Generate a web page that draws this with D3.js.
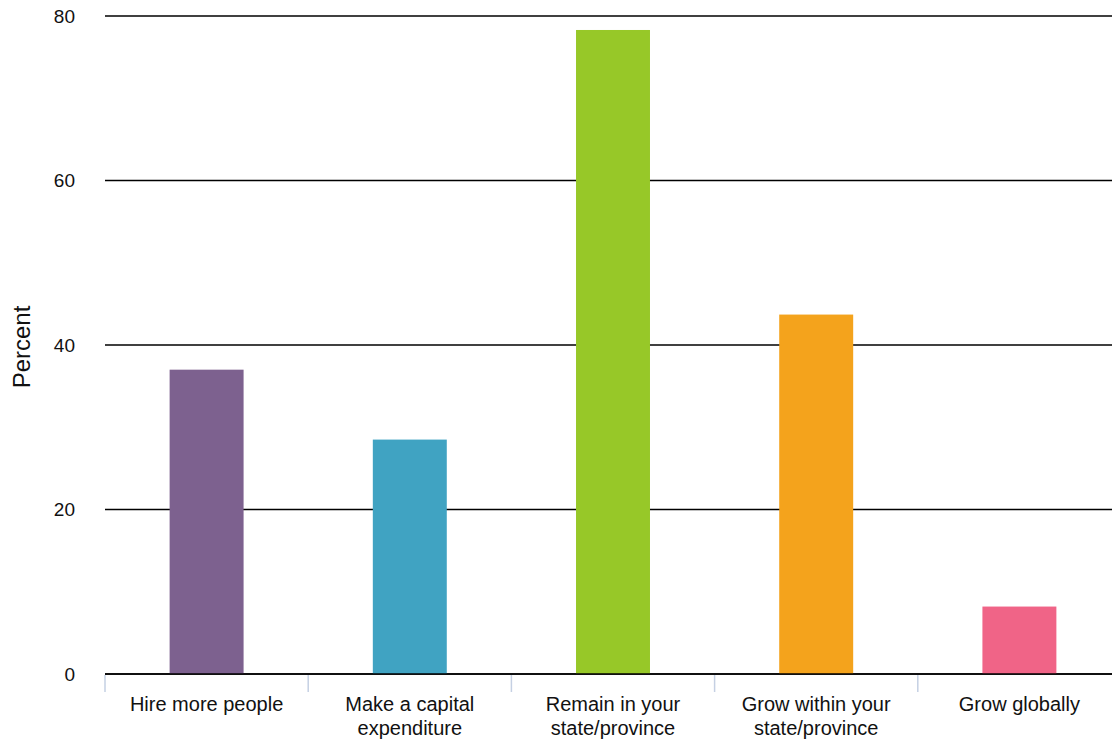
<!DOCTYPE html>
<html>
<head>
<meta charset="utf-8">
<script src="https://cdn.jsdelivr.net/npm/d3@7"></script>
<style>
  html, body { margin: 0; padding: 0; background: #fff; }
  svg { display: block; font-family: "Liberation Sans", Arial, Helvetica, sans-serif; }
</style>
</head>
<body>
<svg id="chart" width="1112" height="744"></svg>
<script>
const categories = [
  ["Hire more people"],
  ["Make a capital", "expenditure"],
  ["Remain in your", "state/province"],
  ["Grow within your", "state/province"],
  ["Grow globally"]
];
const values = [37.0, 28.5, 78.3, 43.7, 8.2];
const colors = ["#7d618f", "#40a3c2", "#97c828", "#f4a31c", "#f06487"];
const yTicks = [0, 20, 40, 60, 80];
const yTitle = "Percent";

(function () {
const svg = d3.select("#chart");
const W = 1112;
const mLeft = 105, mRight = 1121, mTop = 16, mBottom = 674;

const keys = categories.map((c, i) => String(i));
const x = d3.scaleBand().domain(keys).range([mLeft, mRight])
  .paddingInner(0.636).paddingOuter(0.318);
const y = d3.scaleLinear().domain([0, 80]).range([mBottom, mTop]);

// gridlines
svg.append("g").selectAll("line").data(yTicks).join("line")
  .attr("x1", mLeft).attr("x2", W)
  .attr("y1", d => y(d)).attr("y2", d => y(d))
  .attr("stroke", "#000").attr("stroke-width", 1.6);

// y tick labels
svg.append("g").selectAll("text").data(yTicks).join("text")
  .attr("x", 75).attr("y", d => y(d))
  .attr("dy", "0.36em")
  .attr("text-anchor", "end")
  .attr("font-size", 19).attr("fill", "#111")
  .text(d => d);

// y title
svg.append("text")
  .attr("transform", `translate(30,${(y(0) + y(80)) / 2 + 2}) rotate(-90)`)
  .attr("text-anchor", "middle")
  .attr("font-size", 24).attr("fill", "#111")
  .text(yTitle);

// bars
svg.append("g").selectAll("rect").data(values).join("rect")
  .attr("x", (d, i) => x(keys[i]))
  .attr("width", x.bandwidth())
  .attr("y", d => y(d))
  .attr("height", d => y(0) - y(d))
  .attr("fill", (d, i) => colors[i]);

// zero line on top
svg.append("line")
  .attr("x1", mLeft).attr("x2", W)
  .attr("y1", y(0)).attr("y2", y(0))
  .attr("stroke", "#000").attr("stroke-width", 1.6);

// category tick marks at band boundaries
const step = x.step();
const boundaries = keys.map(k => x(k) - (step - x.bandwidth()) / 2);
svg.append("g").selectAll("line").data(boundaries).join("line")
  .attr("x1", d => d).attr("x2", d => d)
  .attr("y1", y(0) + 1).attr("y2", y(0) + 18)
  .attr("stroke", "#c5d0e3").attr("stroke-width", 1.5);

// x labels
const lab = svg.append("g").selectAll("text").data(categories).join("text")
  .attr("text-anchor", "middle")
  .attr("font-size", 20).attr("fill", "#111")
  .attr("x", (d, i) => x(keys[i]) + x.bandwidth() / 2);
lab.each(function (lines) {
  const t = d3.select(this);
  const cx = +t.attr("x");
  lines.forEach((ln, j) => {
    t.append("tspan").attr("x", cx).attr("y", 711 + j * 24).text(ln);
  });
});
})();
</script>
</body>
</html>
